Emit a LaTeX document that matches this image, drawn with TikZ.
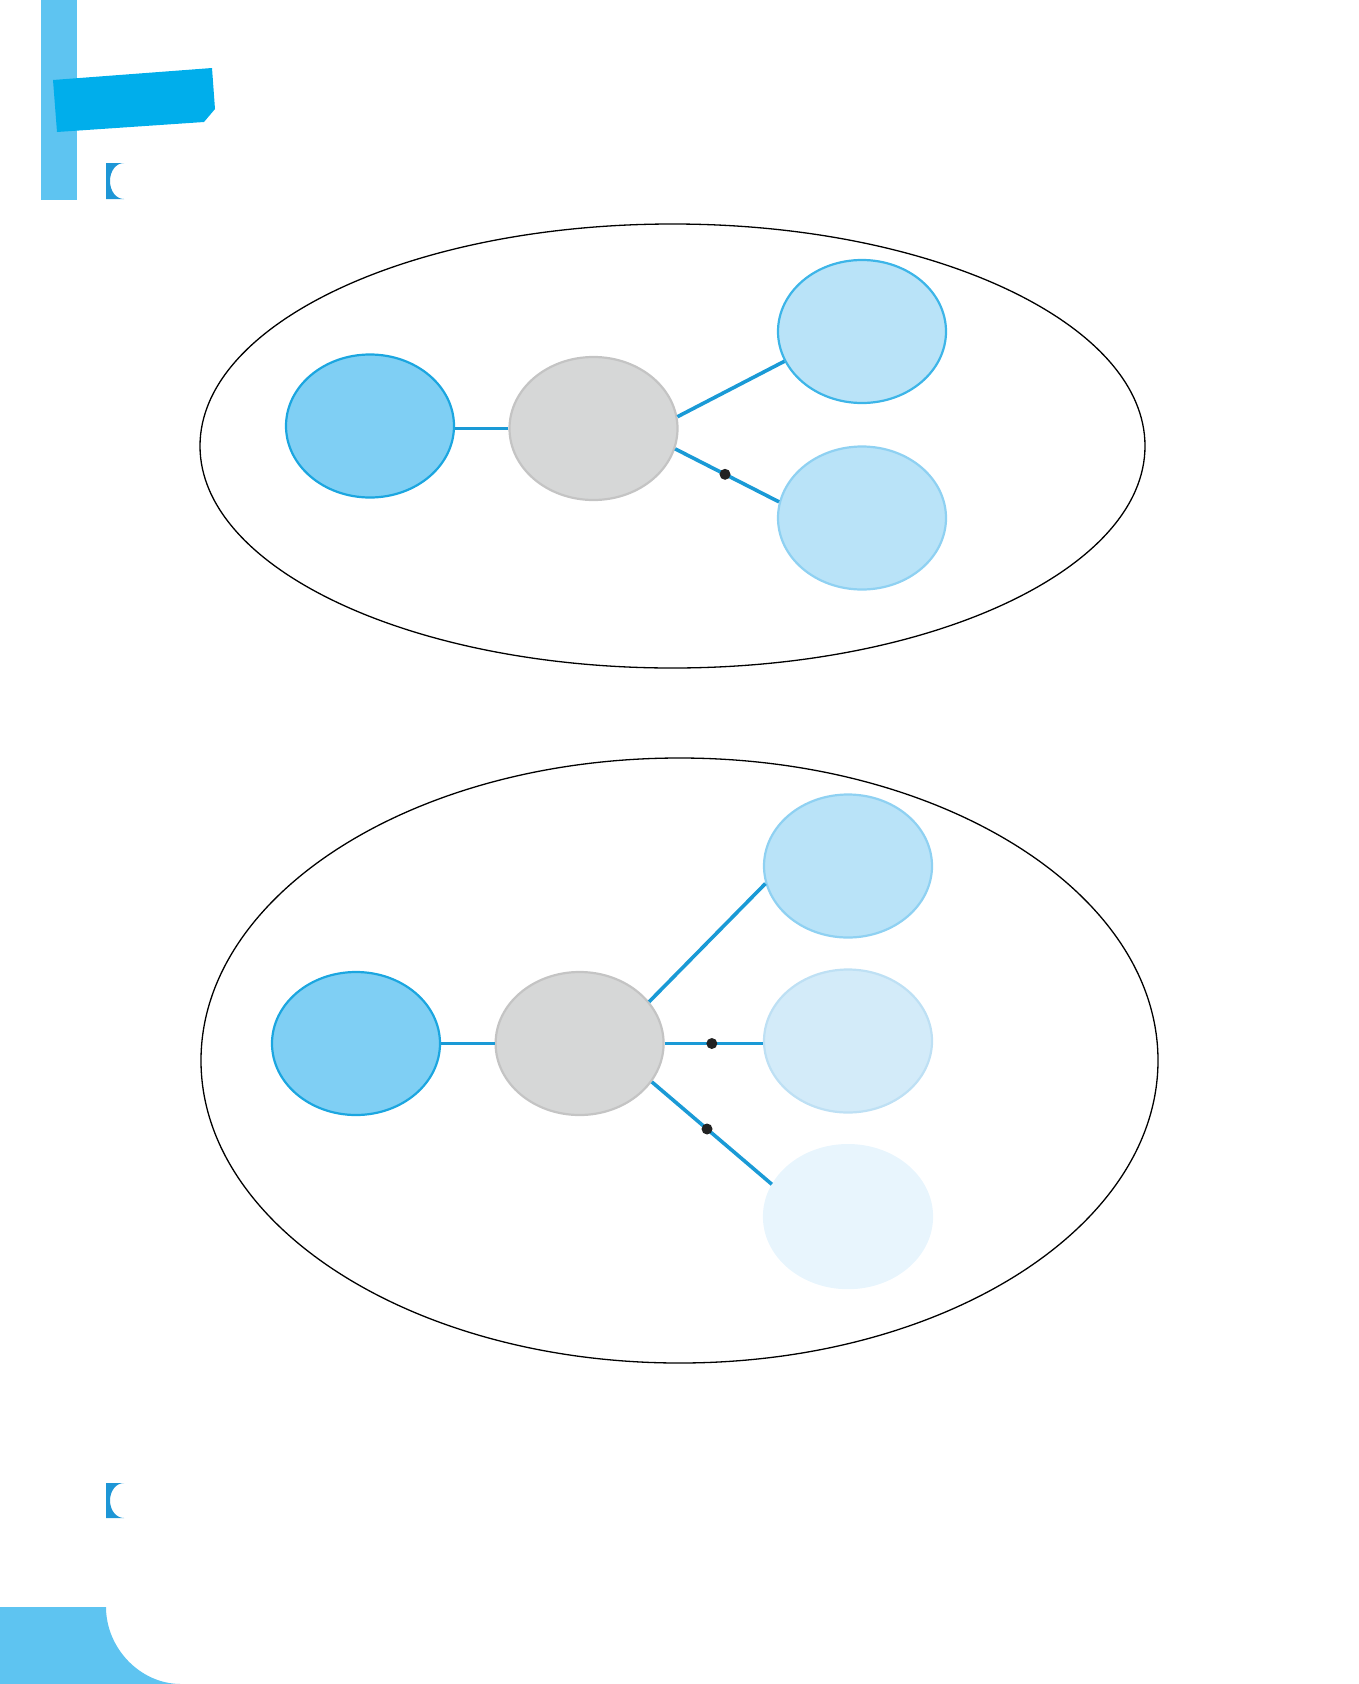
\documentclass[tikz,border=0pt]{standalone}
\usetikzlibrary{shapes.geometric}
\definecolor{barblue}{HTML}{5EC4F1}
\definecolor{bandblue}{HTML}{00AEEB}
\definecolor{markblue}{HTML}{1E96D6}
\definecolor{linkblue}{HTML}{1A9AD6}
\definecolor{darkfill}{HTML}{7FCFF4}
\definecolor{darkline}{HTML}{1BA6E0}
\definecolor{grayfill}{HTML}{D6D7D7}
\definecolor{grayline}{HTML}{C4C4C4}
\definecolor{lightfill}{HTML}{B9E3F8}
\definecolor{lightline}{HTML}{3DB5E8}
\definecolor{paleline}{HTML}{8FD1F2}
\definecolor{midfill}{HTML}{D3EBF9}
\definecolor{midline}{HTML}{BEE0F4}
\definecolor{faintfill}{HTML}{E8F5FD}
\definecolor{dotcol}{HTML}{222222}
\tikzset{
  blob/.style={ellipse, inner sep=0pt, minimum width=168pt, minimum height=143pt, line width=2.2pt},
  bigring/.style={ellipse, draw=black, line width=1.3pt, inner sep=0pt},
  link/.style={draw=linkblue, line width=3.6pt},
  dotnode/.style={circle, fill=dotcol, inner sep=0pt, minimum size=11pt},
}
\begin{document}
\begin{tikzpicture}[x=1pt,y=-1pt]
\useasboundingbox (0,0) rectangle (1359,1684);
% decorations
\fill[barblue] (41,0) rectangle (77,200);
\fill[bandblue] (53,80) -- (212,68) -- (215,109) -- (204,122) -- (57,132) -- cycle;
\fill[markblue] (106,163) -- (124,163) .. controls (116,163) and (110,171) .. (110,181) .. controls (110,191) and (116,199) .. (124,199) -- (106,199) -- cycle;
\fill[markblue] (106,1483) -- (124,1483) .. controls (116,1483) and (110,1491) .. (110,1500.5) .. controls (110,1510) and (116,1518) .. (124,1518) -- (106,1518) -- cycle;
\fill[barblue] (0,1607) -- (106,1607) .. controls (106,1648) and (140,1684) .. (181,1684) -- (0,1684) -- cycle;

% top diagram
\node[bigring, minimum width=945pt, minimum height=444pt] (ringA) at (672.5,446) {};
\node[blob, fill=darkfill, draw=darkline] (aL) at (370,426) {};
\node[blob, fill=grayfill, draw=grayline] (aG) at (593.5,428.5) {};
\node[blob, fill=lightfill, draw=lightline] (aU) at (862,331.5) {};
\node[blob, fill=lightfill, draw=paleline] (aD) at (862,518) {};
\draw[link] (aG.west) -- (aG.west -| aL.east);
\draw[link] (aG.8) -- (aU.201);
\draw[link] (aG.346) -- node[dotnode, pos=0.48] (aDot) {} (aD.169);

% bottom diagram
\node[bigring, minimum width=957pt, minimum height=605pt] (ringB) at (679.5,1060.5) {};
\node[blob, fill=darkfill, draw=darkline] (bL) at (356,1043.5) {};
\node[blob, fill=grayfill, draw=grayline] (bG) at (579.6,1043.5) {};
\node[blob, fill=lightfill, draw=paleline] (bU) at (848,866) {};
\node[blob, fill=midfill, draw=midline] (bM) at (848,1041) {};
\node[blob, fill=faintfill, draw=faintfill] (bB) at (848,1216.6) {};
\draw[link] (bG.west) -- (bL.east);
\draw[link] (bG.31) -- (bU.192);
\draw[link] (bG.east) -- node[dotnode, pos=0.48] (bDot1) {} (bG.east -| bM.west);
\draw[link] (bG.332) -- node[dotnode, pos=0.46] (bDot2) {} (bB.157);
\end{tikzpicture}
\end{document}
